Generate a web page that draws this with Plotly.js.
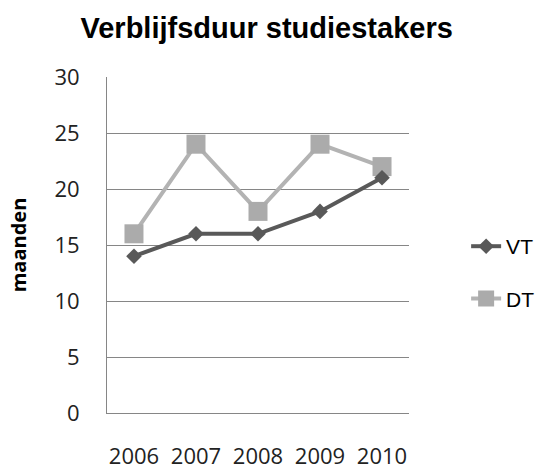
<!DOCTYPE html>
<html>
<head>
<meta charset="utf-8">
<script src="https://cdn.plot.ly/plotly-3.0.1.min.js"></script>
<style>
  body { margin: 0; background: #fff; }
  #myPlot { width: 542px; height: 469px; }
</style>
</head>
<body>
<div id="myPlot"></div>
<script>
// data
var jaren = ['2006', '2007', '2008', '2009', '2010'];
var vtWaarden = [14, 16, 16, 18, 21];
var dtWaarden = [16, 24, 18, 24, 22];

var tickFont = { family: 'Open Sans, sans-serif', size: 22, color: '#222' };

// DT first so the VT line sits on top (as in the original)
var DT = {
    type: 'scatter',
    x: jaren,
    y: dtWaarden,
    mode: 'lines+markers',
    name: 'DT',
    legendgroup: 'dt',
    legendrank: 2,
    line: { color: '#b3b3b3', width: 4 },
    marker: { color: '#ababab', size: 19, symbol: 'square' }
};

var VT = {
    type: 'scatter',
    x: jaren,
    y: vtWaarden,
    mode: 'lines+markers',
    name: 'VT',
    legendgroup: 'vt',
    legendrank: 1,
    line: { color: '#595959', width: 4 },
    marker: { color: '#595959', size: 12, symbol: 'diamond' }
};

var data = [DT, VT];

var layout = {
    width: 542,
    height: 469,
    paper_bgcolor: '#fff',
    plot_bgcolor: '#fff',
    margin: { l: 107, r: 133, t: 77, b: 56 },
    title: {
        text: 'Verblijfsduur studiestakers',
        font: { family: 'Liberation Sans, Arial, sans-serif', size: 29, color: '#000', weight: 'bold' },
        x: 0.492,
        xref: 'container',
        xanchor: 'center',
        y: 0.94,
        yref: 'container',
        yanchor: 'middle'
    },
    xaxis: {
        type: 'category',
        showgrid: false,
        zeroline: false,
        showline: true,
        linecolor: '#868686',
        linewidth: 1,
        ticks: '',
        tickfont: tickFont,
        ticklabelstandoff: 24
    },
    yaxis: {
        range: [0, 30],
        dtick: 5,
        tick0: 0,
        showgrid: true,
        gridcolor: '#868686',
        gridwidth: 1,
        zeroline: false,
        showline: true,
        linecolor: '#868686',
        linewidth: 1,
        ticks: '',
        tickfont: tickFont,
        ticklabelstandoff: 22,
        title: {
            text: 'maanden',
            font: { family: 'Open Sans, sans-serif', size: 20, color: '#000', weight: 'bold' },
            standoff: 22
        }
    },
    showlegend: true,
    legend: {
        xref: 'container',
        x: 0.86,
        xanchor: 'left',
        y: 0.418,
        yanchor: 'middle',
        traceorder: 'grouped',
        tracegroupgap: 22,
        font: { family: 'Liberation Sans, Arial, sans-serif', size: 21, color: '#000' },
        bgcolor: 'rgba(0,0,0,0)'
    }
};

Plotly.newPlot('myPlot', data, layout, { displayModeBar: false });
</script>
</body>
</html>
